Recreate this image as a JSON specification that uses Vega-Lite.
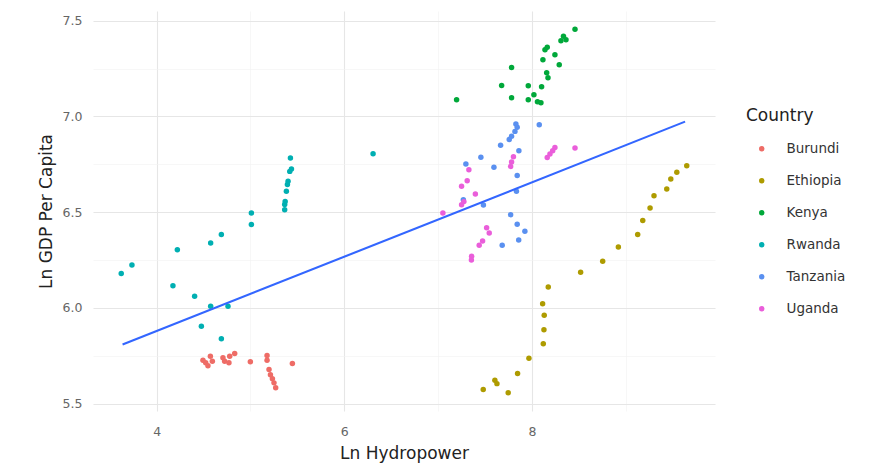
{
  "$schema": "https://vega.github.io/schema/vega-lite/v6.json",
  "width": 622,
  "height": 400,
  "autosize": {"type": "none"},
  "padding": {"left": 93, "top": 11, "right": 156, "bottom": 62},
  "background": "white",
  "config": {
    "view": {"stroke": null},
    "font": "DejaVu Sans",
    "axis": {
      "domain": false,
      "ticks": false,
      "tickSize": 0,
      "labelFont": "DejaVu Sans",
      "labelFontSize": 12.5,
      "labelColor": "#666666",
      "titleFont": "DejaVu Sans",
      "titleFontSize": 17,
      "titleFontWeight": "normal",
      "titleColor": "#222222"
    }
  },
  "datasets": {
    "points": [
      {"country": "Kenya", "hydro": 7.197, "gdp": 7.087},
      {"country": "Kenya", "hydro": 7.783, "gdp": 7.256},
      {"country": "Kenya", "hydro": 7.677, "gdp": 7.162},
      {"country": "Kenya", "hydro": 7.783, "gdp": 7.098},
      {"country": "Kenya", "hydro": 7.961, "gdp": 7.161},
      {"country": "Kenya", "hydro": 7.961, "gdp": 7.087},
      {"country": "Kenya", "hydro": 8.021, "gdp": 7.114},
      {"country": "Kenya", "hydro": 8.059, "gdp": 7.077},
      {"country": "Kenya", "hydro": 8.096, "gdp": 7.072},
      {"country": "Kenya", "hydro": 8.103, "gdp": 7.155},
      {"country": "Kenya", "hydro": 8.157, "gdp": 7.228},
      {"country": "Kenya", "hydro": 8.171, "gdp": 7.202},
      {"country": "Kenya", "hydro": 8.117, "gdp": 7.296},
      {"country": "Kenya", "hydro": 8.139, "gdp": 7.349},
      {"country": "Kenya", "hydro": 8.163, "gdp": 7.361},
      {"country": "Kenya", "hydro": 8.245, "gdp": 7.322},
      {"country": "Kenya", "hydro": 8.291, "gdp": 7.270},
      {"country": "Kenya", "hydro": 8.309, "gdp": 7.396},
      {"country": "Kenya", "hydro": 8.336, "gdp": 7.419},
      {"country": "Kenya", "hydro": 8.363, "gdp": 7.401},
      {"country": "Kenya", "hydro": 8.459, "gdp": 7.456},
      {"country": "Ethiopia", "hydro": 7.481, "gdp": 5.573},
      {"country": "Ethiopia", "hydro": 7.605, "gdp": 5.622},
      {"country": "Ethiopia", "hydro": 7.627, "gdp": 5.604},
      {"country": "Ethiopia", "hydro": 7.747, "gdp": 5.556},
      {"country": "Ethiopia", "hydro": 7.847, "gdp": 5.657},
      {"country": "Ethiopia", "hydro": 7.968, "gdp": 5.737},
      {"country": "Ethiopia", "hydro": 8.121, "gdp": 5.812},
      {"country": "Ethiopia", "hydro": 8.128, "gdp": 5.886},
      {"country": "Ethiopia", "hydro": 8.131, "gdp": 5.961},
      {"country": "Ethiopia", "hydro": 8.114, "gdp": 6.021},
      {"country": "Ethiopia", "hydro": 8.174, "gdp": 6.109},
      {"country": "Ethiopia", "hydro": 8.519, "gdp": 6.186},
      {"country": "Ethiopia", "hydro": 8.754, "gdp": 6.243},
      {"country": "Ethiopia", "hydro": 8.921, "gdp": 6.318},
      {"country": "Ethiopia", "hydro": 9.127, "gdp": 6.383},
      {"country": "Ethiopia", "hydro": 9.181, "gdp": 6.456},
      {"country": "Ethiopia", "hydro": 9.259, "gdp": 6.522},
      {"country": "Ethiopia", "hydro": 9.301, "gdp": 6.586},
      {"country": "Ethiopia", "hydro": 9.437, "gdp": 6.621},
      {"country": "Ethiopia", "hydro": 9.480, "gdp": 6.673},
      {"country": "Ethiopia", "hydro": 9.544, "gdp": 6.708},
      {"country": "Ethiopia", "hydro": 9.650, "gdp": 6.743},
      {"country": "Rwanda", "hydro": 3.623, "gdp": 6.179},
      {"country": "Rwanda", "hydro": 3.737, "gdp": 6.224},
      {"country": "Rwanda", "hydro": 4.221, "gdp": 6.304},
      {"country": "Rwanda", "hydro": 4.174, "gdp": 6.116},
      {"country": "Rwanda", "hydro": 4.405, "gdp": 6.060},
      {"country": "Rwanda", "hydro": 4.576, "gdp": 6.339},
      {"country": "Rwanda", "hydro": 4.690, "gdp": 6.383},
      {"country": "Rwanda", "hydro": 4.576, "gdp": 6.008},
      {"country": "Rwanda", "hydro": 4.761, "gdp": 6.008},
      {"country": "Rwanda", "hydro": 4.477, "gdp": 5.904},
      {"country": "Rwanda", "hydro": 4.690, "gdp": 5.838},
      {"country": "Rwanda", "hydro": 5.010, "gdp": 6.496},
      {"country": "Rwanda", "hydro": 5.010, "gdp": 6.435},
      {"country": "Rwanda", "hydro": 5.365, "gdp": 6.513},
      {"country": "Rwanda", "hydro": 5.365, "gdp": 6.540},
      {"country": "Rwanda", "hydro": 5.370, "gdp": 6.556},
      {"country": "Rwanda", "hydro": 5.383, "gdp": 6.609},
      {"country": "Rwanda", "hydro": 5.394, "gdp": 6.644},
      {"country": "Rwanda", "hydro": 5.401, "gdp": 6.661},
      {"country": "Rwanda", "hydro": 5.419, "gdp": 6.713},
      {"country": "Rwanda", "hydro": 5.437, "gdp": 6.726},
      {"country": "Rwanda", "hydro": 5.426, "gdp": 6.783},
      {"country": "Rwanda", "hydro": 6.307, "gdp": 6.805},
      {"country": "Burundi", "hydro": 4.494, "gdp": 5.726},
      {"country": "Burundi", "hydro": 4.523, "gdp": 5.713},
      {"country": "Burundi", "hydro": 4.547, "gdp": 5.698},
      {"country": "Burundi", "hydro": 4.573, "gdp": 5.747},
      {"country": "Burundi", "hydro": 4.594, "gdp": 5.721},
      {"country": "Burundi", "hydro": 4.707, "gdp": 5.739},
      {"country": "Burundi", "hydro": 4.725, "gdp": 5.721},
      {"country": "Burundi", "hydro": 4.771, "gdp": 5.713},
      {"country": "Burundi", "hydro": 4.779, "gdp": 5.747},
      {"country": "Burundi", "hydro": 4.832, "gdp": 5.761},
      {"country": "Burundi", "hydro": 4.999, "gdp": 5.718},
      {"country": "Burundi", "hydro": 5.177, "gdp": 5.751},
      {"country": "Burundi", "hydro": 5.177, "gdp": 5.726},
      {"country": "Burundi", "hydro": 5.198, "gdp": 5.678},
      {"country": "Burundi", "hydro": 5.213, "gdp": 5.651},
      {"country": "Burundi", "hydro": 5.234, "gdp": 5.629},
      {"country": "Burundi", "hydro": 5.251, "gdp": 5.608},
      {"country": "Burundi", "hydro": 5.269, "gdp": 5.582},
      {"country": "Burundi", "hydro": 5.447, "gdp": 5.709},
      {"country": "Tanzania", "hydro": 7.829, "gdp": 6.961},
      {"country": "Tanzania", "hydro": 7.843, "gdp": 6.943},
      {"country": "Tanzania", "hydro": 7.819, "gdp": 6.922},
      {"country": "Tanzania", "hydro": 7.783, "gdp": 6.896},
      {"country": "Tanzania", "hydro": 7.758, "gdp": 6.879},
      {"country": "Tanzania", "hydro": 8.078, "gdp": 6.957},
      {"country": "Tanzania", "hydro": 7.666, "gdp": 6.849},
      {"country": "Tanzania", "hydro": 7.861, "gdp": 6.821},
      {"country": "Tanzania", "hydro": 7.456, "gdp": 6.787},
      {"country": "Tanzania", "hydro": 7.296, "gdp": 6.751},
      {"country": "Tanzania", "hydro": 7.595, "gdp": 6.734},
      {"country": "Tanzania", "hydro": 7.843, "gdp": 6.691},
      {"country": "Tanzania", "hydro": 7.835, "gdp": 6.609},
      {"country": "Tanzania", "hydro": 7.269, "gdp": 6.565},
      {"country": "Tanzania", "hydro": 7.483, "gdp": 6.537},
      {"country": "Tanzania", "hydro": 7.773, "gdp": 6.487},
      {"country": "Tanzania", "hydro": 7.843, "gdp": 6.437},
      {"country": "Tanzania", "hydro": 7.925, "gdp": 6.400},
      {"country": "Tanzania", "hydro": 7.859, "gdp": 6.355},
      {"country": "Tanzania", "hydro": 7.683, "gdp": 6.327},
      {"country": "Uganda", "hydro": 8.245, "gdp": 6.838},
      {"country": "Uganda", "hydro": 8.221, "gdp": 6.821},
      {"country": "Uganda", "hydro": 8.192, "gdp": 6.804},
      {"country": "Uganda", "hydro": 8.163, "gdp": 6.786},
      {"country": "Uganda", "hydro": 8.459, "gdp": 6.835},
      {"country": "Uganda", "hydro": 7.803, "gdp": 6.790},
      {"country": "Uganda", "hydro": 7.783, "gdp": 6.762},
      {"country": "Uganda", "hydro": 7.773, "gdp": 6.739},
      {"country": "Uganda", "hydro": 7.328, "gdp": 6.722},
      {"country": "Uganda", "hydro": 7.310, "gdp": 6.664},
      {"country": "Uganda", "hydro": 7.250, "gdp": 6.635},
      {"country": "Uganda", "hydro": 7.397, "gdp": 6.595},
      {"country": "Uganda", "hydro": 7.275, "gdp": 6.555},
      {"country": "Uganda", "hydro": 7.250, "gdp": 6.539},
      {"country": "Uganda", "hydro": 7.051, "gdp": 6.496},
      {"country": "Uganda", "hydro": 7.517, "gdp": 6.419},
      {"country": "Uganda", "hydro": 7.545, "gdp": 6.391},
      {"country": "Uganda", "hydro": 7.474, "gdp": 6.349},
      {"country": "Uganda", "hydro": 7.438, "gdp": 6.327},
      {"country": "Uganda", "hydro": 7.357, "gdp": 6.269},
      {"country": "Uganda", "hydro": 7.355, "gdp": 6.250}
    ],
    "fit": [
      {"hydro": 3.637, "gdp": 5.808},
      {"hydro": 9.632, "gdp": 6.973}
    ]
  },
  "layer": [
    {
      "data": {"name": "points"},
      "mark": {"type": "point", "filled": true, "size": 30, "opacity": 1},
      "encoding": {
        "x": {
          "field": "hydro",
          "type": "quantitative",
          "title": "Ln Hydropower",
          "scale": {"domain": [3.322, 9.951], "nice": false, "zero": false},
          "axis": {
            "values": [3, 4, 5, 6, 7, 8, 9],
            "labelExpr": "datum.value % 2 == 0 ? format(datum.value, 'd') : ''",
            "gridColor": {"condition": {"test": "datum.value % 2 == 0", "value": "#e6e6e6"}, "value": "#f1f1f1"},
            "gridWidth": {"condition": {"test": "datum.value % 2 == 0", "value": 1.1}, "value": 0.6},
            "labelPadding": 14,
            "titlePadding": 8
          }
        },
        "y": {
          "field": "gdp",
          "type": "quantitative",
          "title": "Ln GDP Per Capita",
          "scale": {"domain": [5.461, 7.551], "nice": false, "zero": false},
          "axis": {
            "values": [5.5, 5.75, 6, 6.25, 6.5, 6.75, 7, 7.25, 7.5],
            "labelExpr": "round(datum.value * 4) % 2 == 0 ? format(datum.value, '.1f') : ''",
            "gridColor": {"condition": {"test": "round(datum.value * 4) % 2 == 0", "value": "#e6e6e6"}, "value": "#f1f1f1"},
            "gridWidth": {"condition": {"test": "round(datum.value * 4) % 2 == 0", "value": 1.1}, "value": 0.6},
            "labelPadding": 11,
            "titlePadding": 7
          }
        },
        "color": {
          "field": "country",
          "type": "nominal",
          "title": "Country",
          "scale": {
            "domain": ["Burundi", "Ethiopia", "Kenya", "Rwanda", "Tanzania", "Uganda"],
            "range": ["#EE6C66", "#AE9B00", "#00A83A", "#00AFB2", "#5A90F0", "#EA5EDA"]
          },
          "legend": {
            "orient": "none",
            "legendX": 653,
            "legendY": 97,
            "titleFont": "DejaVu Sans",
            "titleFontSize": 17,
            "titleFontWeight": "normal",
            "titleColor": "#222222",
            "titlePadding": 17,
            "labelFont": "DejaVu Sans",
            "labelFontSize": 13.5,
            "labelColor": "#333333",
            "symbolType": "circle",
            "symbolSize": 30,
            "symbolOffset": 9,
            "labelOffset": 18,
            "rowPadding": 17
          }
        }
      }
    },
    {
      "data": {"name": "fit"},
      "mark": {"type": "line", "color": "#3366FF", "strokeWidth": 2.1},
      "encoding": {
        "x": {"field": "hydro", "type": "quantitative"},
        "y": {"field": "gdp", "type": "quantitative"}
      }
    }
  ]
}
